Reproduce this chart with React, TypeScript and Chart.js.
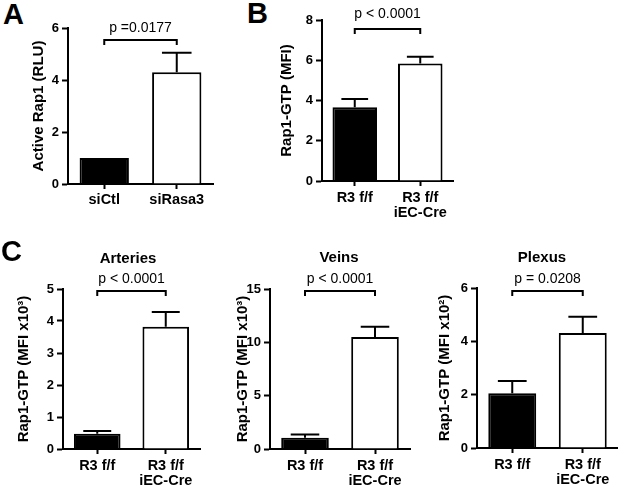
import React, { useEffect, useRef } from "react";
import { Chart, registerables } from "chart.js";

Chart.register(...registerables);

const FONT = "'Liberation Sans', Arial, Helvetica, sans-serif";
Chart.defaults.font.family = FONT;
Chart.defaults.color = "#000";

// ---- Data ----
const catsA = ["siCtl", "siRasa3"];
const meanA = [1.0, 4.3];
const semA = [0, 0.75];

const catsR3: (string | string[])[] = ["R3 f/f", ["R3 f/f", "iEC-Cre"]];

const meanB = [3.67, 5.84];
const semB = [0.41, 0.34];

const meanArt = [0.48, 3.82];
const semArt = [0.08, 0.46];

const meanVein = [1.05, 10.5];
const semVein = [0.32, 0.95];

const meanPlex = [2.05, 4.31];
const semPlex = [0.46, 0.61];

const barColors = ["#000000", "#ffffff"];

type PanelDef = {
  cats: (string | string[])[];
  means: number[];
  sems: number[];
  yMax: number;
  yStep: number;
  yTitle: string;
  pText: string;
  bracketY: number;
  pGap: number;
  xPad: number;
  area: { l: number; t: number; r: number; b: number };
  titleX: number;
};

const panels: PanelDef[] = [
  {
    cats: catsA, means: meanA, sems: semA, yMax: 6, yStep: 2,
    yTitle: "Active Rap1 (RLU)", pText: "p =0.0177", bracketY: 5.54, pGap: 8, xPad: 3,
    area: { l: 68, t: 28, r: 213, b: 184 }, titleX: 39,
  },
  {
    cats: catsR3, means: meanB, sems: semB, yMax: 8, yStep: 2,
    yTitle: "Rap1-GTP (MFI)", pText: "p < 0.0001", bracketY: 7.53, pGap: 11, xPad: 4,
    area: { l: 322, t: 20, r: 453, b: 181 }, titleX: 287,
  },
  {
    cats: catsR3, means: meanArt, sems: semArt, yMax: 5, yStep: 1,
    yTitle: "Rap1-GTP (MFI x10³)", pText: "p < 0.0001", bracketY: 4.94, pGap: 8, xPad: 4,
    area: { l: 63, t: 289, r: 200, b: 449 }, titleX: 24,
  },
  {
    cats: catsR3, means: meanVein, sems: semVein, yMax: 15, yStep: 5,
    yTitle: "Rap1-GTP (MFI x10³)", pText: "p < 0.0001", bracketY: 14.8, pGap: 8, xPad: 4,
    area: { l: 270, t: 289, r: 410, b: 449 }, titleX: 243,
  },
  {
    cats: catsR3, means: meanPlex, sems: semPlex, yMax: 6, yStep: 2,
    yTitle: "Rap1-GTP (MFI x10²)", pText: "p = 0.0208", bracketY: 5.89, pGap: 8, xPad: 4,
    area: { l: 477, t: 288, r: 618, b: 448 }, titleX: 445,
  },
];

const sigPlugin = {
  id: "sigbars",
  afterDatasetsDraw(chart: any, _args: any, opts: any) {
    const ctx = chart.ctx;
    const meta = chart.getDatasetMeta(0);
    const y = chart.scales.y;
    const means: number[] = opts.means;
    const sems: number[] = opts.sems;
    ctx.save();
    ctx.strokeStyle = "#000";
    ctx.lineWidth = 2;
    ctx.lineCap = "butt";
    meta.data.forEach((bar: any, i: number) => {
      const s = sems[i];
      if (!s) return;
      const base = y.getPixelForValue(means[i]);
      const top = y.getPixelForValue(means[i] + s);
      const half = bar.width * 0.3;
      ctx.beginPath();
      ctx.moveTo(bar.x, base);
      ctx.lineTo(bar.x, top);
      ctx.moveTo(bar.x - half, top);
      ctx.lineTo(bar.x + half, top);
      ctx.stroke();
    });
    const x0 = meta.data[0].x;
    const x1 = meta.data[1].x;
    const by = Math.round(y.getPixelForValue(opts.bracketY));
    ctx.beginPath();
    ctx.moveTo(x0, by + 5);
    ctx.lineTo(x0, by);
    ctx.lineTo(x1, by);
    ctx.lineTo(x1, by + 5);
    ctx.stroke();
    ctx.fillStyle = "#000";
    ctx.font = `14px ${FONT}`;
    ctx.textAlign = "center";
    ctx.textBaseline = "alphabetic";
    ctx.fillText(opts.pText, (x0 + x1) / 2, by - opts.pGap);
    ctx.restore();
  },
};

function Panel({ p }: { p: PanelDef }) {
  const ref = useRef<HTMLCanvasElement>(null);
  const cx = p.titleX - 9;
  const cy = Math.max(0, p.area.t - 30);
  const cr = Math.min(618, p.area.r + 10);
  const cb = p.area.b + 48;
  const w = cr - cx;
  const h = cb - cy;
  const yW = p.area.l - cx;
  const xH = cb - p.area.b;
  useEffect(() => {
    if (!ref.current) return;
    const chart = new Chart(ref.current, {
      type: "bar",
      data: {
        labels: p.cats as any,
        datasets: [
          {
            data: p.means,
            backgroundColor: barColors,
            borderColor: "#000",
            borderWidth: 2,
            categoryPercentage: 0.68,
            barPercentage: 1,
          },
        ],
      },
      options: {
        responsive: false,
        maintainAspectRatio: false,
        animation: false,
        layout: { padding: { top: p.area.t - cy, right: cr - p.area.r, left: 0, bottom: 0 } },
        plugins: {
          legend: { display: false },
          tooltip: { enabled: false },
          sigbars: { means: p.means, sems: p.sems, bracketY: p.bracketY, pText: p.pText, pGap: p.pGap },
        } as any,
        scales: {
          x: {
            offset: true,
            grid: {
              offset: false,
              display: true,
              drawOnChartArea: false,
              drawTicks: true,
              tickLength: 5,
              tickWidth: 2,
              tickColor: "#000",
            },
            border: { display: true, color: "#000", width: 2 },
            ticks: {
              font: { size: 14.5, weight: "bold", lineHeight: 1.07 },
              color: "#000",
              maxRotation: 0,
              autoSkip: false,
              padding: p.xPad,
            },
            afterFit: (s: any) => { s.height = xH; },
          },
          y: {
            min: 0,
            max: p.yMax,
            grid: {
              display: true,
              drawOnChartArea: false,
              drawTicks: true,
              tickLength: 6,
              tickWidth: 2,
              tickColor: "#000",
            },
            border: { display: true, color: "#000", width: 2 },
            ticks: {
              stepSize: p.yStep,
              font: { size: 13, weight: "bold" },
              color: "#000",
              padding: 3,
            },
            title: {
              display: true,
              text: p.yTitle,
              font: { size: 15, weight: "bold" },
              color: "#000",
              padding: 0,
            },
            afterFit: (s: any) => { s.width = yW; },
          },
        },
      } as any,
      plugins: [sigPlugin],
    });
    return () => chart.destroy();
  }, []);
  return (
    <canvas
      ref={ref}
      width={w}
      height={h}
      style={{ position: "absolute", left: cx, top: cy, width: w, height: h }}
    />
  );
}

function Txt({ x, y, size, text, bold, center }: { x: number; y: number; size: number; text: string; bold?: boolean; center?: boolean }) {
  // y is baseline
  const top = y - 0.846 * size;
  return (
    <div
      style={{
        position: "absolute",
        left: center ? x - 100 : x,
        top,
        width: center ? 200 : undefined,
        textAlign: center ? "center" : "left",
        fontFamily: FONT,
        fontSize: size,
        lineHeight: 1,
        fontWeight: bold ? "bold" : "normal",
        whiteSpace: "nowrap",
        color: "#000",
      }}
    >
      {text}
    </div>
  );
}

export default function App() {
  return (
    <div style={{ position: "absolute", left: 0, top: 0, width: 618, height: 486, background: "#fff", overflow: "hidden" }}>
      {panels.map((p, i) => (
        <Panel key={i} p={p} />
      ))}
      <Txt x={3} y={25} size={29} text="A" bold />
      <Txt x={247} y={24} size={29} text="B" bold />
      <Txt x={1} y={262} size={29} text="C" bold />
      <Txt x={128} y={263} size={15} text="Arteries" bold center />
      <Txt x={339} y={262} size={15} text="Veins" bold center />
      <Txt x={542} y={262} size={15} text="Plexus" bold center />
    </div>
  );
}
